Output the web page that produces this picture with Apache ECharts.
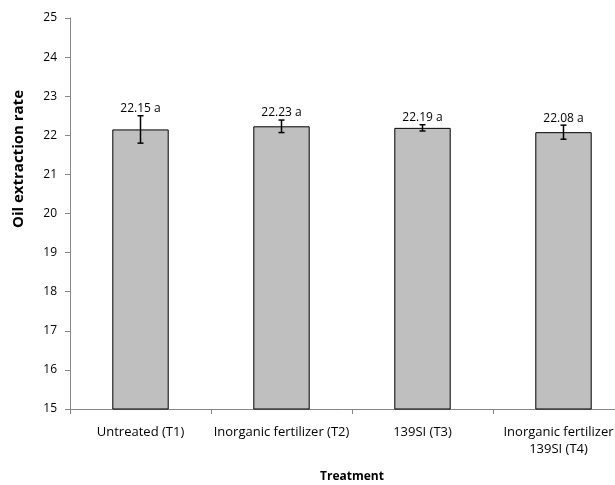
<!DOCTYPE html>
<html><head><meta charset="utf-8">
<script src="https://cdn.jsdelivr.net/npm/echarts@6/dist/echarts.min.js"></script>
<style>html,body{margin:0;padding:0;background:#fff}#c{width:615px;height:485px}</style>
</head><body><div id="c"></div>
<script>
const categories = ['Untreated (T1)', 'Inorganic fertilizer (T2)', '139SI (T3)', 'Inorganic fertilizer\n139SI (T4)'];
const values = [22.15, 22.23, 22.19, 22.08];
const errors = [0.35, 0.16, 0.08, 0.18];
const letters = ['a', 'a', 'a', 'a'];
const yTicks = [15, 16, 17, 18, 19, 20, 21, 22, 23, 24, 25];

const FONT = '"Open Sans", "Liberation Sans", sans-serif';
const chart = echarts.init(document.getElementById('c'), null, {renderer: 'canvas'});
const catData = categories.map((c, i) => i === categories.length - 1
  ? {value: c, textStyle: {padding: [0, 10, 0, 0]}} : c);
chart.setOption({
  animation: false,
  grid: {left: 70, top: 18, width: 564, height: 391, containLabel: false, outerBoundsMode: 'none'},
  graphic: [{
    type: 'text', x: 19, y: 159, rotation: Math.PI / 2,
    style: {text: 'Oil extraction rate', font: 'bold 15px ' + FONT, fill: '#000', align: 'center', verticalAlign: 'middle'}
  }],
  xAxis: {
    type: 'category', data: catData,
    name: 'Treatment', nameLocation: 'middle', nameGap: 62,
    nameTextStyle: {fontFamily: FONT, fontWeight: 'bold', fontSize: 12, color: '#000'},
    axisLine: {lineStyle: {color: '#868686'}},
    axisTick: {show: true, alignWithLabel: false, length: 5, inside: false, lineStyle: {color: '#868686'}},
    axisLabel: {fontFamily: FONT, fontSize: 13, color: '#000', margin: 15, lineHeight: 17, interval: 0}
  },
  yAxis: {
    type: 'value', min: yTicks[0], max: yTicks[yTicks.length - 1], interval: 1,
    axisLine: {show: true, lineStyle: {color: '#868686'}},
    axisTick: {show: true, length: 5, lineStyle: {color: '#868686'}},
    splitLine: {show: false},
    axisLabel: {fontFamily: FONT, fontSize: 12, color: '#000', margin: 13}
  },
  series: [
    {
      type: 'bar', data: values, barWidth: '40%',
      itemStyle: {color: '#BFBFBF', borderColor: '#000', borderWidth: 1}
    },
    {
      type: 'custom',
      data: values.map((v, i) => [i, v, errors[i]]),
      z: 10,
      renderItem: function (params, api) {
        const i = api.value(0), v = api.value(1), e = api.value(2);
        const top = api.coord([i, v + e]);
        const bot = api.coord([i, v - e]);
        const x = top[0], cw = 3;
        return {
          type: 'group',
          children: [
            {type: 'line', shape: {x1: x, y1: top[1], x2: x, y2: bot[1]}, style: {stroke: '#000', lineWidth: 1.5}},
            {type: 'line', shape: {x1: x - cw, y1: top[1], x2: x + cw, y2: top[1]}, style: {stroke: '#000', lineWidth: 1.5}},
            {type: 'line', shape: {x1: x - cw, y1: bot[1], x2: x + cw, y2: bot[1]}, style: {stroke: '#000', lineWidth: 1.5}},
            {type: 'text', style: {
              x: x, y: top[1] - 1, text: values[i].toFixed(2) + ' ' + letters[i],
              fill: '#000', font: '12px ' + FONT, align: 'center', verticalAlign: 'bottom'
            }}
          ]
        };
      }
    }
  ]
});
</script></body></html>
